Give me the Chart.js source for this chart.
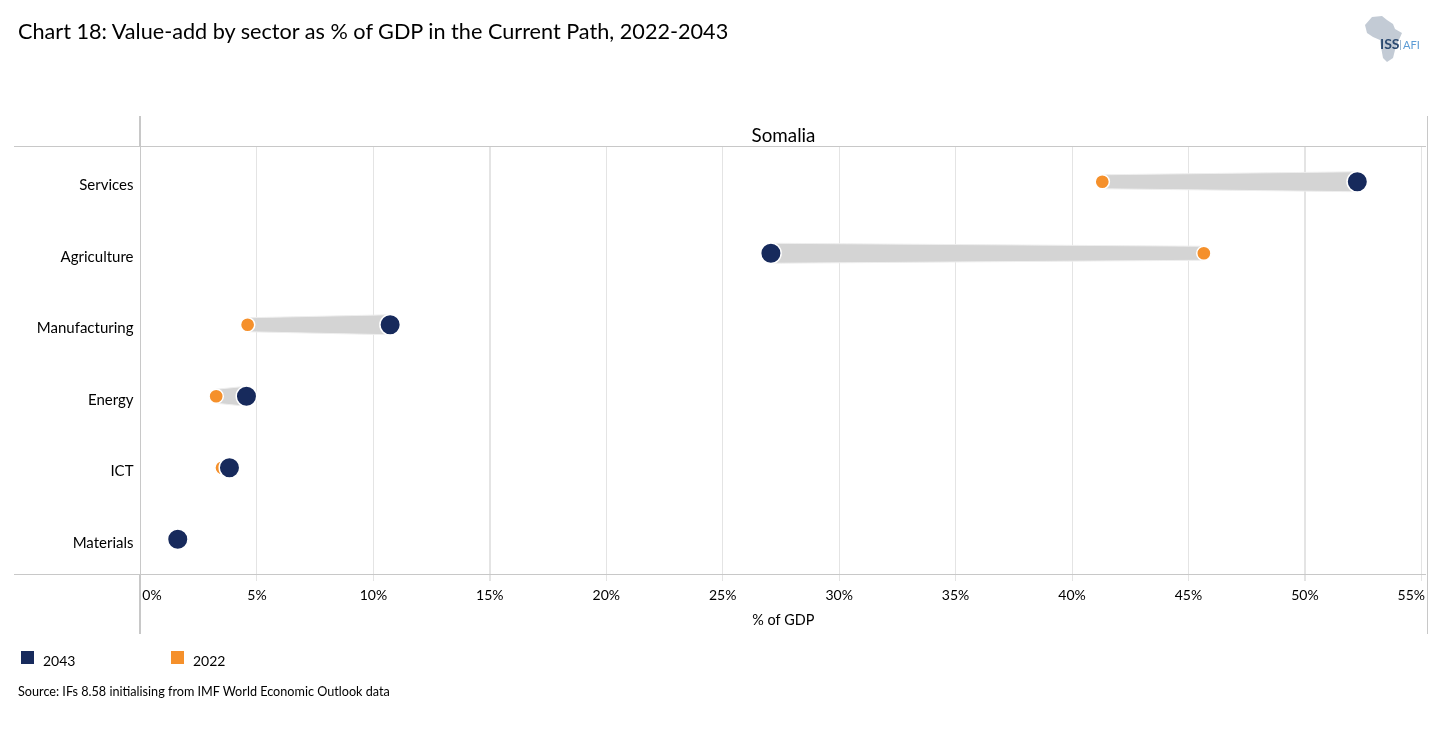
<!DOCTYPE html>
<html>
<head>
<meta charset="utf-8">
<title>Chart 18</title>
<script src="https://cdn.jsdelivr.net/npm/chart.js@4"></script>
<style>
body { margin: 0; background: #fff; font-family: Lato, sans-serif; color: #000; }
#wrap { position: relative; width: 1443px; height: 729px; overflow: hidden; }
#wrap > div, #logo { position: absolute; white-space: nowrap; }
canvas { position: absolute; left: 0; top: 0; }
.swatch { width: 13px; height: 13px; }
</style>
</head>
<body>
<div id="wrap">
    <canvas id="myChart" width="1443" height="729"></canvas>
    <div style="left:18px; top:18px; font-size:21.65px; line-height:26px;">Chart 18: Value-add by sector as % of GDP in the Current Path, 2022-2043</div>
    <div style="left:140px; width:1287px; top:125px; text-align:center; font-size:18.8px; line-height:20px;">Somalia</div>
    <div id="legend"></div>
    <div style="left:18px; top:684px; font-size:12.65px; line-height:16px;">Source: IFs 8.58 initialising from IMF World Economic Outlook data</div>
    <svg id="logo" style="left:1340px; top:0;" width="103" height="80">
        <path fill="#c3cbd5" d="M25 25 L32 17 L42 16 L47 20 L53 24 L55 29 L62 33 L58 42 L55 50 L53 58 L47 62 L43 58 L41 47 L40 40 L33 37 L27 33 Z"/>
        <text x="40" y="49" font-family="Lato" font-size="14" font-weight="700" fill="#2c4a70">ISS</text>
        <rect x="60" y="40" width="1" height="10" fill="#9db8d2"/>
        <text x="63" y="49" font-family="Lato" font-size="11" fill="#5b9bd5">AFI</text>
    </svg>
</div>
<script>
var sectors = ['Services', 'Agriculture', 'Manufacturing', 'Energy', 'ICT', 'Materials'];
var values2043 = [52.25, 27.07, 10.72, 4.55, 3.82, 1.6];
var values2022 = [41.3, 45.66, 4.6, 3.25, 3.5, 1.5];
var seriesNames = ['2043', '2022'];
var seriesColors = ['#172a5c', '#f5902b'];

// first and last tick labels sit inside the panel in the original
var tickShift = { 0: 11.5, 55: -10 };

// grey wedge between the two years, the panel frame and the x tick labels
var wedges = {
    id: 'wedges',
    beforeDatasetsDraw: function (chart) {
        var c = chart.ctx, x = chart.scales.x, y = chart.scales.y;
        c.save();
        sectors.forEach(function (s, i) {
            var x0 = x.getPixelForValue(values2022[i]);
            var x1 = x.getPixelForValue(values2043[i]);
            var yy = y.getPixelForValue(i);
            c.beginPath();
            c.moveTo(x0, yy - 7);
            c.lineTo(x1, yy - 10);
            c.lineTo(x1, yy + 10);
            c.lineTo(x0, yy + 7);
            c.closePath();
            c.fillStyle = '#d4d4d4';
            c.strokeStyle = '#eeeeee';
            c.lineWidth = 1;
            c.fill();
            c.stroke();
        });
        c.restore();
    },
    afterDraw: function (chart) {
        var c = chart.ctx, a = chart.chartArea, x = chart.scales.x;
        c.save();
        c.strokeStyle = '#c8c8c8';
        c.lineWidth = 1;
        c.beginPath();
        c.moveTo(14, a.top + 0.5); c.lineTo(a.right, a.top + 0.5);
        c.moveTo(14, a.bottom - 0.5); c.lineTo(a.right, a.bottom - 0.5);
        c.moveTo(a.right + 1.5, 116); c.lineTo(a.right + 1.5, 634);
        c.moveTo(a.left, a.top); c.lineTo(a.left, a.bottom);
        c.stroke();
        c.lineWidth = 2;
        c.beginPath();
        c.moveTo(a.left - 0.5, 116); c.lineTo(a.left - 0.5, a.top);
        c.moveTo(a.left - 0.5, a.bottom); c.lineTo(a.left - 0.5, 634);
        c.stroke();

        c.fillStyle = '#000';
        c.font = '14px Lato';
        c.textAlign = 'center';
        c.textBaseline = 'middle';
        x.ticks.forEach(function (t) {
            var shift = tickShift[t.value] || 0;
            c.fillText(t.value + '%', x.getPixelForValue(t.value) + shift, 595);
        });
        c.restore();
    }
};

new Chart(document.getElementById('myChart'), {
    type: 'line',
    plugins: [wedges],
    data: {
        labels: sectors,
        datasets: [
            {
                label: seriesNames[0],
                data: values2043,
                showLine: false,
                pointRadius: 10.25,
                pointBorderWidth: 1.5,
                pointBackgroundColor: seriesColors[0],
                pointBorderColor: '#ffffff'
            },
            {
                label: seriesNames[1],
                data: values2022,
                showLine: false,
                pointRadius: 7.1,
                pointBorderWidth: 1.5,
                pointBackgroundColor: seriesColors[1],
                pointBorderColor: '#ffffff'
            }
        ]
    },
    options: {
        indexAxis: 'y',
        responsive: false,
        animation: false,
        layout: {
            autoPadding: false,
            padding: { left: 0, right: 17, top: 146, bottom: 100 }
        },
        plugins: {
            legend: { display: false },
            tooltip: { enabled: false }
        },
        scales: {
            x: {
                type: 'linear',
                min: 0,
                max: 55.2,
                afterFit: function (scale) { scale.height = 54; },
                grid: {
                    color: '#e4e4e4',
                    lineWidth: function (c) {
                        if (c.tick.value === 0) return 0;
                        return (c.tick.value === 15 || c.tick.value === 50) ? 2 : 1;
                    },
                    tickLength: 6
                },
                border: { display: false },
                ticks: {
                    stepSize: 5,
                    includeBounds: false,
                    autoSkip: false,
                    maxRotation: 0,
                    color: 'rgba(0,0,0,0)',
                    font: { family: 'Lato', size: 14 }
                },
                title: {
                    display: true,
                    text: '% of GDP',
                    color: '#000',
                    font: { family: 'Lato', size: 14.4 },
                    padding: { top: 4, bottom: 0 }
                }
            },
            y: {
                type: 'category',
                offset: true,
                afterFit: function (scale) { scale.width = 140.5; },
                grid: { display: false, tickLength: 0 },
                border: { display: false },
                ticks: {
                    padding: 7,
                    labelOffset: 3.75,
                    color: '#000',
                    font: { family: 'Lato', size: 15 }
                }
            }
        }
    }
});

// legend built from the series names
var legend = document.getElementById('legend');
legend.style.left = '0';
legend.style.top = '0';
[21, 171].forEach(function (left, i) {
    var box = document.createElement('div');
    box.className = 'swatch';
    box.style.cssText = 'position:absolute;left:' + left + 'px;top:651px;background:' + seriesColors[i];
    legend.appendChild(box);
    var txt = document.createElement('div');
    txt.textContent = seriesNames[i];
    txt.style.cssText = 'position:absolute;left:' + (left + 22) + 'px;top:652px;font-size:14px;line-height:18px;';
    legend.appendChild(txt);
});
</script>
</body>
</html>
